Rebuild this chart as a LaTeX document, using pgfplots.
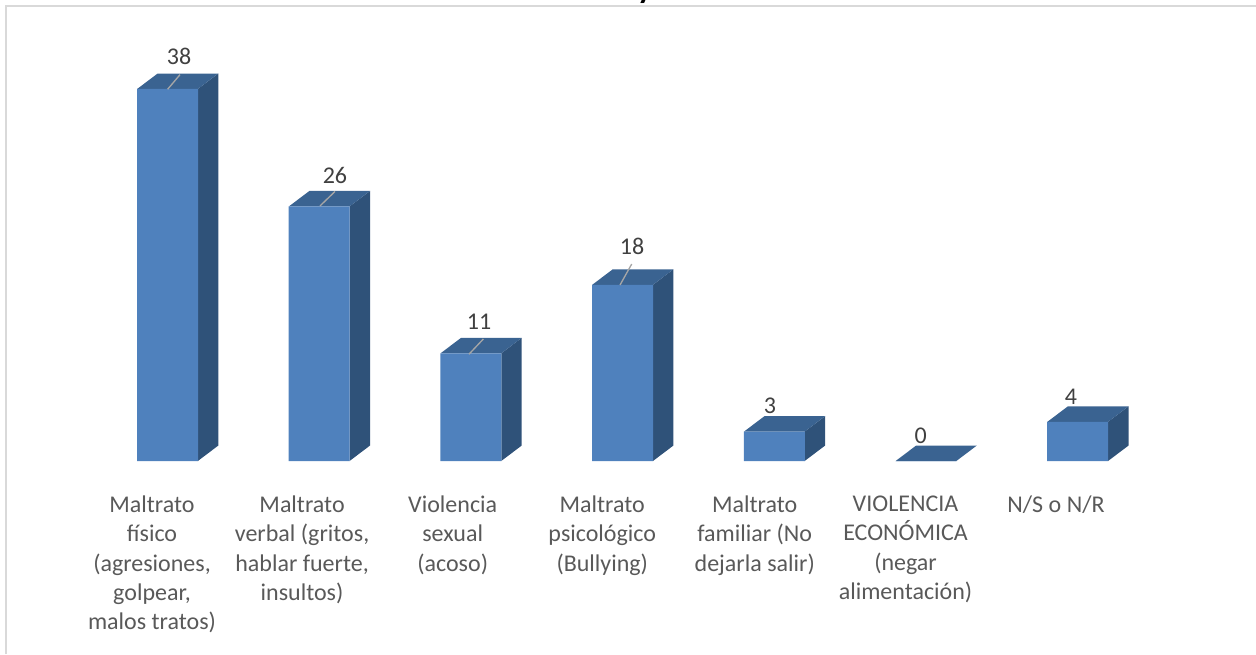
\documentclass[border=0pt]{standalone}
\usepackage{pgfplots}
\usepackage{fontspec}
\setmainfont{Carlito}
\pgfplotsset{compat=1.18}
\definecolor{front}{HTML}{4F81BD}
\definecolor{topf}{HTML}{3A6391}
\definecolor{sidef}{HTML}{2F5279}
\definecolor{ticktxt}{HTML}{595959}
\definecolor{valtxt}{HTML}{404040}
\definecolor{frameg}{HTML}{D9D9D9}
\definecolor{leader}{HTML}{A6A6A6}
\pgfplotsset{face/.style={fill=#1,draw=none,forget plot,mark=none}}
\begin{document}
\begin{tikzpicture}
\path[clip,use as bounding box] (0,0) rectangle (942pt,490.5pt);
\begin{axis}[
  scale only axis, width=942pt, height=490.5pt,
  xmin=-1.1042, xmax=7.1754, ymin=-19.714, ymax=47.089,
  clip=false,
  axis y line=none, axis x line=middle,
  x axis line style={draw=none,-},
  hide obscured x ticks=false,
  major tick length=0pt,
  xtick={-0.102,0.887,1.88,2.866,3.871,4.865,5.857},
  xticklabels={
    {Maltrato\\físico\\(agresiones,\\golpear,\\malos tratos)},
    {Maltrato\\verbal (gritos,\\hablar fuerte,\\insultos)},
    {Violencia\\sexual\\(acoso)},
    {Maltrato\\psicológico\\(Bullying)},
    {Maltrato\\familiar (No\\dejarla salir)},
    {VIOLENCIA\\ECONÓMICA\\(negar\\alimentación)},
    {N/S o N/R}},
  xticklabel style={anchor=north,align=center,text=ticktxt,font=\fontsize{18}{22}\selectfont,yshift=-26pt,inner sep=0pt},
]
% frame
\addplot[draw=frameg,line width=1.5pt,forget plot,mark=none] coordinates {(-1.0646,-19.714) (-1.0646,46.48) (7.1754,46.48)};
% side faces
\addplot[face=sidef] coordinates {(.2,0)(.335,1.58)(.335,39.58)(.2,38)} --cycle;
\addplot[face=sidef] coordinates {(1.2,0)(1.335,1.58)(1.335,27.58)(1.2,26)} --cycle;
\addplot[face=sidef] coordinates {(2.2,0)(2.335,1.58)(2.335,12.58)(2.2,11)} --cycle;
\addplot[face=sidef] coordinates {(3.2,0)(3.335,1.58)(3.335,19.58)(3.2,18)} --cycle;
\addplot[face=sidef] coordinates {(4.2,0)(4.335,1.58)(4.335,4.58)(4.2,3)} --cycle;
\addplot[face=sidef] coordinates {(6.2,0)(6.335,1.58)(6.335,5.58)(6.2,4)} --cycle;
% top faces
\addplot[face=topf] coordinates {(-.2,38)(.2,38)(.335,39.58)(-.065,39.58)} --cycle;
\addplot[face=topf] coordinates {(.8,26)(1.2,26)(1.335,27.58)(.935,27.58)} --cycle;
\addplot[face=topf] coordinates {(1.8,11)(2.2,11)(2.335,12.58)(1.935,12.58)} --cycle;
\addplot[face=topf] coordinates {(2.8,18)(3.2,18)(3.335,19.58)(2.935,19.58)} --cycle;
\addplot[face=topf] coordinates {(3.8,3)(4.2,3)(4.335,4.58)(3.935,4.58)} --cycle;
\addplot[face=topf] coordinates {(4.8,0)(5.2,0)(5.335,1.58)(4.935,1.58)} --cycle;
\addplot[face=topf] coordinates {(5.8,4)(6.2,4)(6.335,5.58)(5.935,5.58)} --cycle;
% front faces
\addplot[ybar,bar width=45.75pt,bar shift=0pt,fill=front,draw=none,forget plot] coordinates {(0,38)(1,26)(2,11)(3,18)(4,3)(5,0)(6,4)};
% leader lines
\addplot[draw=leader,line width=1pt,forget plot,mark=none] coordinates {(0.001,37.97)(.0824,39.46)};
\addplot[draw=leader,line width=1pt,forget plot,mark=none] coordinates {(1.005,26.05)(1.104,27.53)};
\addplot[draw=leader,line width=1pt,forget plot,mark=none] coordinates {(1.987,10.9)(2.082,12.46)};
\addplot[draw=leader,line width=1pt,forget plot,mark=none] coordinates {(2.983,17.98)(3.06,20.12)};
% data labels
\addplot[only marks,mark=none,forget plot,point meta=explicit symbolic,
  nodes near coords,
  every node near coord/.style={anchor=center,inner sep=0pt,text=valtxt,font=\fontsize{18}{20}\selectfont}]
  table[meta=v] {
  x y v
  .0758 41.37 38
  1.104 29.21 26
  2.0534 14.2 11
  3.062 21.96 18
  3.972 5.62 3
  4.965 2.58 0
  5.956 6.57 4
};
\node[anchor=base,font=\fontsize{24}{26}\selectfont\bfseries,text=black] at (axis cs:3.148,47.29) {y};
\end{axis}
\end{tikzpicture}
\end{document}
